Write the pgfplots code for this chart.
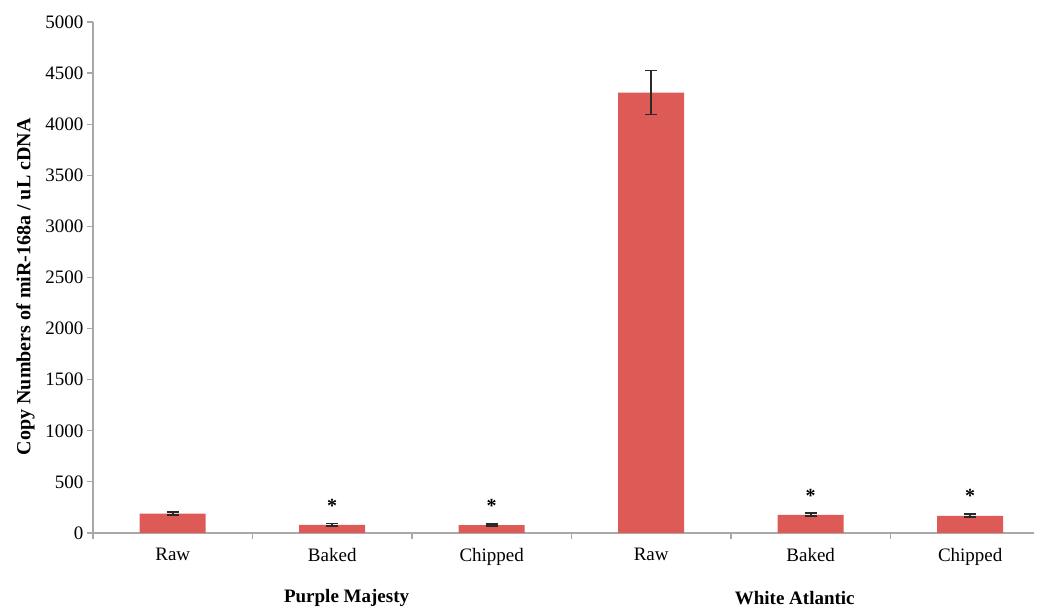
\documentclass[border=0pt]{standalone}
\usepackage{pgfplots}
\pgfplotsset{compat=1.18}
\usepackage{fontspec}
\setmainfont{Liberation Serif}
\definecolor{barred}{HTML}{DD5A56}
\definecolor{axisgray}{HTML}{A8A8A8}
\definecolor{errgray}{HTML}{2A2A2A}
\newcommand\fs{\fontsize{19}{22}\selectfont}
\begin{document}
\begin{tikzpicture}
\begin{axis}[
  name=ax,
  scale only axis, width=941pt, height=511pt,
  xmin=-0.5, xmax=5.4, ymin=0, ymax=5000,
  clip=false,
  axis x line=bottom, axis y line=left,
  axis line style={axisgray, line width=1.2pt, -},
  tick align=outside,
  major tick length=6pt,
  tick style={axisgray, line width=1.2pt},
  ytick={0,500,...,5000},
  xtick={0,...,5},
  xticklabels={Raw,Baked,Chipped,Raw,Baked,Chipped},
  xtick style={draw=none},
  extra x ticks={-0.5,0.5,1.5,2.5,3.5,4.5},
  extra x tick labels={},
  extra x tick style={xtick style={draw=axisgray, line width=1.2pt}},
  /pgf/number format/assume math mode=true,
  /pgf/number format/1000 sep={},
  tick label style={font=\fs, text=black},
  xticklabel style={yshift=-6pt},
  ylabel={\bfseries Copy Numbers of miR-168a / uL cDNA},
  ylabel style={font=\fontsize{20}{22}\selectfont, at={(ticklabel cs:0.482)}},
  ylabel shift=4pt,
]
\addplot[ybar, bar width=66pt, fill=barred, draw=none,
  error bars/.cd, y dir=both, y explicit,
  error bar style={errgray, line width=1.6pt},
  error mark options={rotate=90, mark size=6pt, line width=1.8pt, errgray}]
coordinates {
  (0,190) +- (0,14)
  (1,80) +- (0,12)
  (2,78) +- (0,12)
  (3,4310) +- (0,215)
  (4,178) +- (0,14)
  (5,168) +- (0,14)
};
\addplot[draw=none, mark=none, nodes near coords={\bfseries *},
  every node near coord/.append style={anchor=center, font=\fontsize{20}{22}\selectfont, yshift=-4pt, text=black}]
coordinates {(1,300) (2,300) (4,400) (5,400)};
\node[font=\bfseries\fs] at (axis cs:1.09,0) [yshift=-65pt] {Purple Majesty};
\node[font=\bfseries\fs] at (axis cs:3.9,0) [yshift=-65pt] {White Atlantic};
\end{axis}
\pgfresetboundingbox
\path (ax.south west) ++(-93pt,-74pt) rectangle ++(1037pt,607pt);
\end{tikzpicture}
\end{document}
